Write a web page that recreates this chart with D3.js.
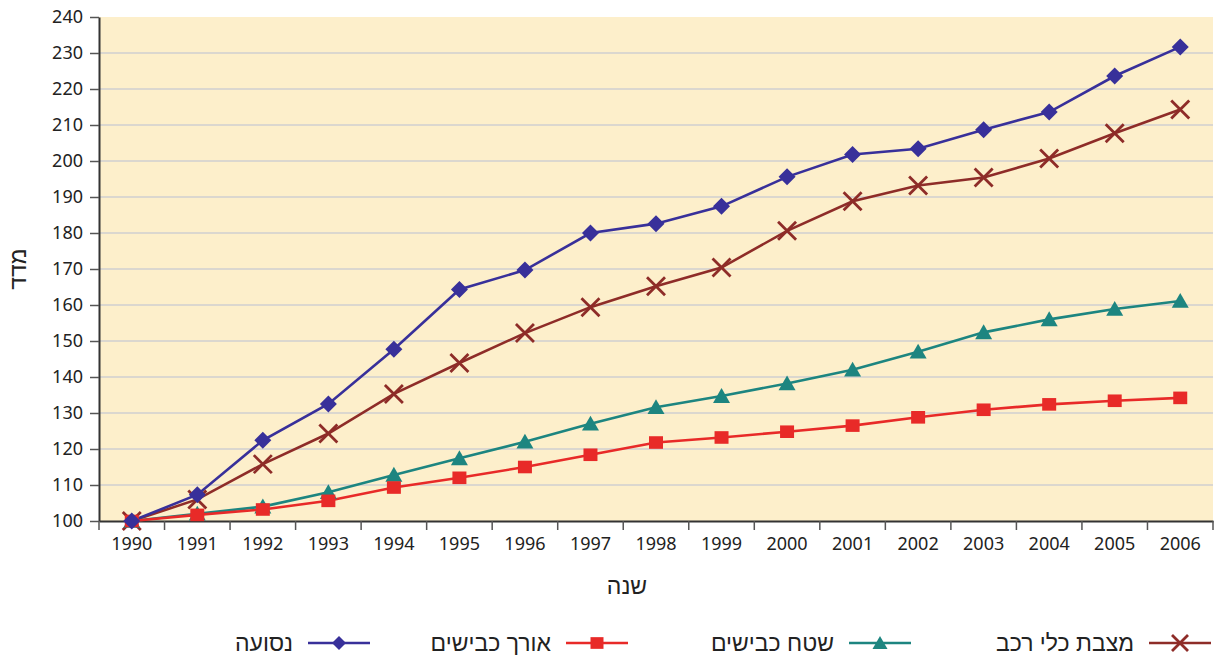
<!DOCTYPE html>
<html>
<head>
<meta charset="utf-8">
<script src="https://cdn.jsdelivr.net/npm/d3@7"></script>
<style>
  body { margin: 0; background: #fff; }
  text { font-family: "Noto Sans", "DejaVu Sans", sans-serif; fill: #222; }
  .heb { font-family: "Liberation Sans", "DejaVu Sans", sans-serif; }
</style>
</head>
<body>
<div id="main"></div>
<script>
var years = ["1990","1991","1992","1993","1994","1995","1996","1997","1998","1999","2000","2001","2002","2003","2004","2005","2006"];
var yTicks = [100,110,120,130,140,150,160,170,180,190,200,210,220,230,240];

var travel = [100,107.3,122.4,132.5,147.7,164.3,169.7,180.0,182.6,187.4,195.6,201.8,203.4,208.7,213.6,223.6,231.7];
var roadLength = [100,101.7,103.2,105.6,109.3,112.0,115.0,118.4,121.8,123.2,124.8,126.5,128.8,130.9,132.4,133.4,134.2];
var roadArea = [100,102.0,104.0,108.0,112.8,117.4,122.0,127.0,131.6,134.7,138.2,142.0,147.0,152.4,156.0,158.9,161.1];
var vehicles = [100,106.0,115.8,124.3,135.3,143.9,152.2,159.4,165.2,170.4,180.6,188.8,193.2,195.4,200.7,207.7,214.3];

var seriesNames = ["נסועה", "אורך כבישים", "שטח כבישים", "מצבת כלי רכב"];

var series = [
  { name: seriesNames[3], values: vehicles, color: "#8e2c28", marker: "x" },
  { name: seriesNames[2], values: roadArea, color: "#1d8580", marker: "triangle" },
  { name: seriesNames[1], values: roadLength, color: "#e82a28", marker: "square" },
  { name: seriesNames[0], values: travel, color: "#38309a", marker: "diamond" }
];

var width = 1217, height = 656;
var margin = { left: 99, right: 4, top: 17, bottom: 135 };

var svg = d3.select("#main").append("svg")
  .attr("width", width).attr("height", height);

var x = d3.scaleBand().domain(years).range([margin.left, width - margin.right]);
var y = d3.scaleLinear().domain([100, 240]).range([height - margin.bottom, margin.top]);

// plot background
svg.append("rect")
  .attr("x", margin.left).attr("y", margin.top)
  .attr("width", width - margin.right - margin.left)
  .attr("height", y(100) - margin.top)
  .attr("fill", "#fdefcb");

// grid
svg.append("g").selectAll("line").data(yTicks.slice(1, -1)).enter().append("line")
  .attr("x1", margin.left).attr("x2", width - margin.right)
  .attr("y1", function (d) { return y(d); }).attr("y2", function (d) { return y(d); })
  .attr("stroke", "#cfcfd1").attr("stroke-width", 1.5);

// y axis
var yAxis = svg.append("g")
  .attr("transform", "translate(" + margin.left + ",0)")
  .call(d3.axisLeft(y).tickValues(yTicks).tickSize(9).tickSizeOuter(0).tickPadding(7));
yAxis.select(".domain").attr("stroke", "#333").attr("stroke-width", 2);
yAxis.selectAll(".tick line").attr("stroke", "#555").attr("stroke-width", 1.5);
yAxis.selectAll("text").style("font-size", "18px").attr("fill", "#222");

// x axis
var xAxis = svg.append("g")
  .attr("transform", "translate(0," + y(100) + ")")
  .call(d3.axisBottom(x).tickSize(0).tickPadding(16));
xAxis.select(".domain").attr("stroke", "#333").attr("stroke-width", 2);
xAxis.selectAll("text").style("font-size", "18px").attr("fill", "#222");
xAxis.selectAll("line.sep").data(years.concat(["end"])).enter().append("line")
  .attr("class", "sep")
  .attr("x1", function (d, i) { return margin.left + i * x.step(); })
  .attr("x2", function (d, i) { return margin.left + i * x.step(); })
  .attr("y1", 0).attr("y2", 9)
  .attr("stroke", "#555").attr("stroke-width", 1.5);

// axis titles
svg.append("text").text("שנה").attr("class", "heb")
  .attr("x", 627).attr("y", 594)
  .attr("text-anchor", "middle").style("font-size", "23px");
svg.append("text").text("מדד").attr("class", "heb")
  .attr("transform", "translate(26," + (y(170)) + ") rotate(-90)")
  .attr("text-anchor", "middle").style("font-size", "23px");

function drawMarker(g, type, color, cx, cy, s) {
  var p;
  if (type === "x") {
    g.append("path")
      .attr("d", "M" + (cx - s) + "," + (cy - s) + "L" + (cx + s) + "," + (cy + s) +
                 "M" + (cx - s) + "," + (cy + s) + "L" + (cx + s) + "," + (cy - s))
      .attr("stroke", color).attr("stroke-width", 2.8).attr("fill", "none");
    return;
  }
  if (type === "diamond") {
    p = "M" + cx + "," + (cy - s) + "L" + (cx + s) + "," + cy + "L" + cx + "," + (cy + s) + "L" + (cx - s) + "," + cy + "Z";
  } else if (type === "square") {
    p = "M" + (cx - s) + "," + (cy - s * 0.9) + "H" + (cx + s) + "V" + (cy + s * 0.9) + "H" + (cx - s) + "Z";
  } else {
    p = "M" + cx + "," + (cy - s * 0.95) + "L" + (cx + s) + "," + (cy + s * 0.8) + "L" + (cx - s) + "," + (cy + s * 0.8) + "Z";
  }
  g.append("path").attr("d", p).attr("fill", color);
}

var markerSize = { x: 9, diamond: 8.5, square: 7, triangle: 8.5 };
var legendSize = { x: 8, diamond: 7, square: 6.5, triangle: 7.5 };

var line = d3.line()
  .x(function (d, i) { return x(years[i]) + x.bandwidth() / 2; })
  .y(function (d) { return y(d); });

var plot = svg.append("g");
series.forEach(function (s) {
  plot.append("path")
    .attr("d", line(s.values))
    .attr("fill", "none").attr("stroke", s.color).attr("stroke-width", 2.6);
});
series.forEach(function (s) {
  var g = plot.append("g");
  s.values.forEach(function (v, i) {
    drawMarker(g, s.marker, s.color, x(years[i]) + x.bandwidth() / 2, y(v), markerSize[s.marker]);
  });
});

// legend
var legendPos = [1180, 880, 597, 339];
var legend = svg.append("g");
series.forEach(function (s, i) {
  var cx = legendPos[i], cy = 643;
  legend.append("line")
    .attr("x1", cx - 31).attr("x2", cx + 31).attr("y1", cy).attr("y2", cy)
    .attr("stroke", s.color).attr("stroke-width", 2.4);
  drawMarker(legend, s.marker, s.color, cx, cy, legendSize[s.marker]);
  legend.append("text").text(s.name).attr("class", "heb")
    .attr("x", cx - 46).attr("y", cy + 8)
    .attr("text-anchor", "end").style("font-size", "23px");
});
</script>
</body>
</html>
